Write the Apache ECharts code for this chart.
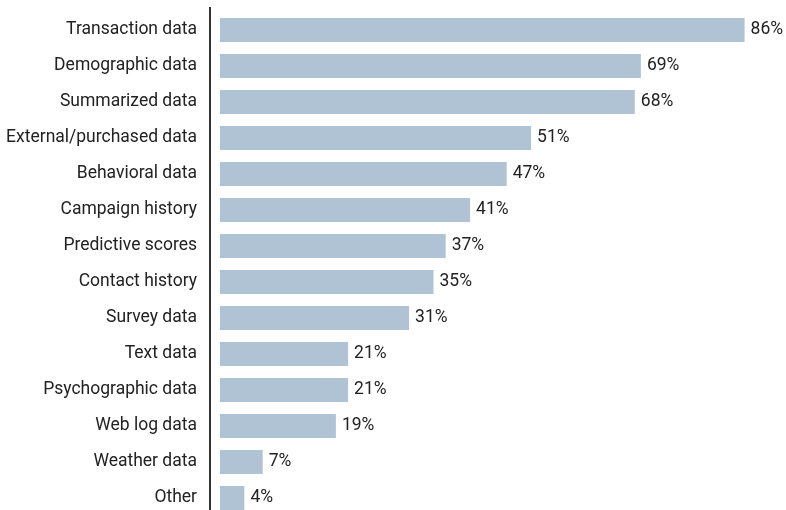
<!DOCTYPE html>
<html>
<head>
<meta charset="utf-8">
<script src="https://cdn.jsdelivr.net/npm/echarts@6/dist/echarts.min.js"></script>
<style>
  html, body { margin: 0; padding: 0; background: #fff; }
  #chart { width: 786px; height: 510px; }
</style>
</head>
<body>
<div id="chart"></div>
<script>
// categories top → bottom
const categories = [
  'Transaction data', 'Demographic data', 'Summarized data', 'External/purchased data',
  'Behavioral data', 'Campaign history', 'Predictive scores', 'Contact history',
  'Survey data', 'Text data', 'Psychographic data', 'Web log data', 'Weather data', 'Other'
]
const values = [86, 69, 68, 51, 47, 41, 37, 35, 31, 21, 21, 19, 7, 4]

const FONT = 'Roboto, "DejaVu Sans Condensed", sans-serif'

const chart = echarts.init(document.getElementById('chart'), null, { renderer: 'canvas' })

chart.setOption({
  backgroundColor: '#fff',
  animation: false,
  grid: { left: 220, right: 17, top: 12, bottom: -6, outerBoundsMode: 'none', containLabel: false },
  // vertical rule left of the bars, a bit taller than the plot
  graphic: [
    {
      type: 'line',
      shape: { x1: 210, y1: 7, x2: 210, y2: 510 },
      style: { stroke: '#333', lineWidth: 2 },
    },
  ],
  xAxis: {
    type: 'value',
    min: 0,
    max: 90,
    show: false,
  },
  yAxis: {
    type: 'category',
    data: categories,
    inverse: true,
    axisLine: { show: false },
    axisTick: { show: false },
    axisLabel: { color: '#222', fontSize: 17.5, fontFamily: FONT, margin: 23 },
  },
  series: [
    {
      type: 'bar',
      data: values,
      barWidth: 24,
      itemStyle: { color: '#b0c3d5' },
      label: {
        show: true,
        position: 'right',
        distance: 6,
        formatter: '{c}%',
        color: '#222',
        fontSize: 17.5,
        fontFamily: FONT,
      },
    },
  ],
})
</script>
</body>
</html>
